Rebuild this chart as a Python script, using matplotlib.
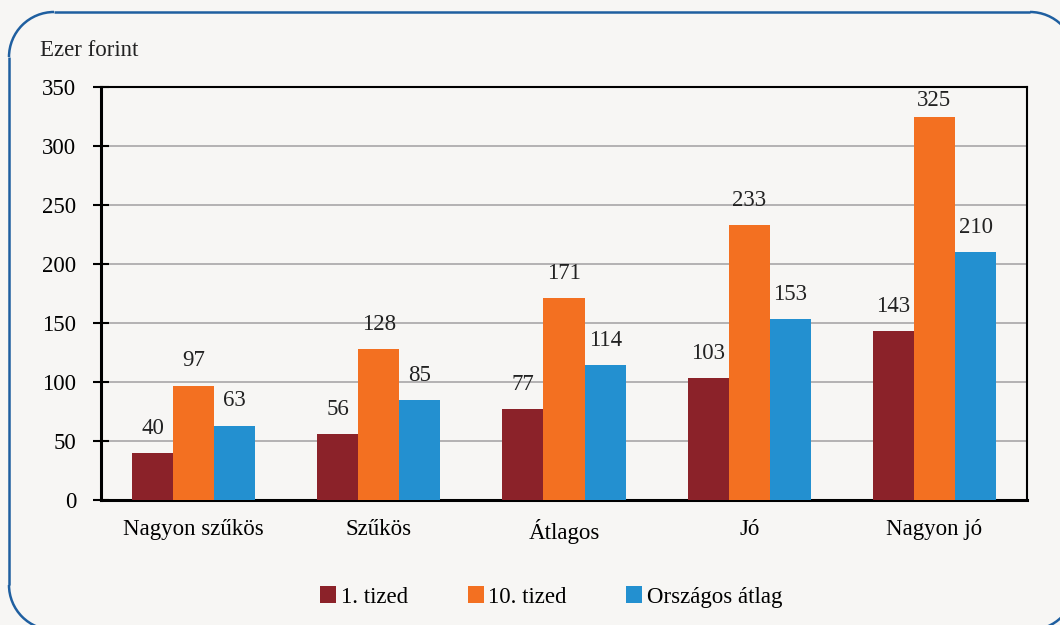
import numpy as np
import matplotlib
matplotlib.use("Agg")
import matplotlib.pyplot as plt
from matplotlib.patches import Arc

categories = ["Nagyon szűkös", "Szűkös", "Átlagos", "Jó", "Nagyon jó"]
first_decile = [40, 56, 77, 103, 143]
tenth_decile = [97, 128, 171, 233, 325]
national_avg = [63, 85, 114, 153, 210]
series_names = ["1. tized", "10. tized", "Országos átlag"]
colors = ["#8B2229", "#F37021", "#2390D0"]
yticks = [0, 50, 100, 150, 200, 250, 300, 350]

plt.rcParams["font.family"] = ["Liberation Serif", "DejaVu Serif"]
BG = "#F7F6F4"
FRAME = "#1F5FA0"
FS = 16.5
W, H = 1060, 625

fig = plt.figure(figsize=(10.6, 6.25), dpi=100, facecolor=BG)

# rounded frame (runs off the right and bottom edges), in pixel coordinates
bg_ax = fig.add_axes([0, 0, 1, 1])
bg_ax.set_xlim(0, W)
bg_ax.set_ylim(0, H)
bg_ax.axis("off")
left, right, top, bottom, r = 9, 1075, H - 12, -5, 45
lw = 1.8
bg_ax.plot([left + r, right - r], [top, top], color=FRAME, lw=lw,
           solid_capstyle="butt")
bg_ax.plot([left, left], [top - r, bottom + r], color=FRAME, lw=lw,
           solid_capstyle="butt")
for cx, cy, t1, t2 in [(left + r, top - r, 90, 180),
                       (left + r, bottom + r, 180, 270),
                       (right - r, bottom + r, 270, 360),
                       (right - r, top - r, 0, 90)]:
    bg_ax.add_patch(Arc((cx, cy), 2 * r, 2 * r, theta1=t1, theta2=t2,
                        color=FRAME, lw=lw, capstyle="butt"))

ax = fig.add_axes([101 / W, 1 - 500 / H, (1027 - 101) / W, (500 - 87) / H])
ax.set_facecolor(BG)

x = np.arange(len(categories))
bw = 0.222
for i, (vals, name, c) in enumerate(zip([first_decile, tenth_decile, national_avg],
                                         series_names, colors)):
    pos = x + (i - 1) * bw
    ax.bar(pos, vals, bw, color=c, label=name, zorder=3)
    for px, v in zip(pos, vals):
        # keep labels inside the plot area, like Excel does
        ax.text(px, min(v + 12, 330), str(v), ha="center", va="bottom",
                fontsize=FS, color="#222222", zorder=4)

ax.set_xlim(-0.5, len(categories) - 0.5)
ax.set_ylim(0, 350)
ax.set_yticks(yticks)
ax.set_xticks(x)
ax.set_xticklabels(categories, fontsize=FS)
ax.tick_params(axis="y", labelsize=FS, direction="inout", length=12, width=1.5,
               pad=12)
ax.tick_params(axis="x", length=0, pad=14)
ax.grid(axis="y", color="#A8A6A8", linewidth=1.2, zorder=0)
for s in ax.spines.values():
    s.set_color("black")
    s.set_linewidth(1.5)
ax.spines["left"].set_linewidth(2.2)
ax.spines["bottom"].set_linewidth(2.2)

fig.text(40 / W, 1 - 50 / H, "Ezer forint", fontsize=FS, va="center",
         ha="left", color="#222222")

fig.legend(loc="center", bbox_to_anchor=(0.52, 1 - 597 / H), ncol=3,
           frameon=False, fontsize=FS, handlelength=0.7, handleheight=0.7,
           handletextpad=0.2, columnspacing=2.6)

fig.savefig("out.png", dpi=100, facecolor=BG)
